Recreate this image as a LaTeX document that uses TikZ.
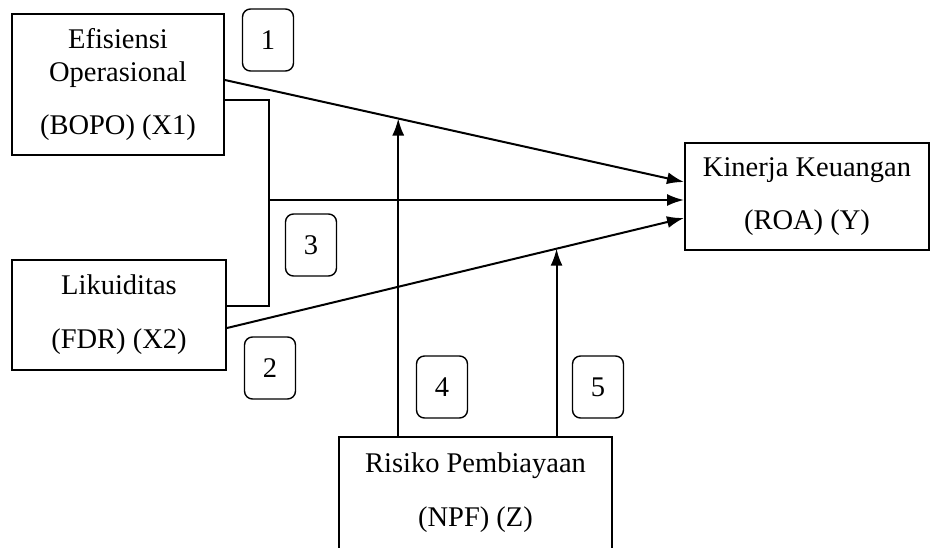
\documentclass[tikz,border=0pt]{standalone}
\usepackage{fontspec}
\setmainfont{Liberation Serif}
\usetikzlibrary{positioning,arrows.meta,calc}

\begin{document}
\begin{tikzpicture}[
  x=1pt, y=-1pt,
  font=\fontsize{28.5}{33}\selectfont,
  var/.style={rectangle, draw, line width=2pt, align=center, inner sep=0pt},
  num/.style={rectangle, rounded corners=8pt, draw, line width=1.4pt,
              minimum width=51pt, minimum height=62pt, inner sep=0pt},
  link/.style={line width=2pt},
  arrow/.style={link, -{Latex[length=17pt, width=12pt]}}
]
\useasboundingbox (0,0) rectangle (931,547);

% Variable boxes
\node[var, minimum width=212pt, minimum height=141pt] (x1) at (118,84)
  {Efisiensi\\Operasional\\[20pt](BOPO) (X1)};
\node[var, minimum width=214pt, minimum height=110pt] (x2) at (119,315)
  {Likuiditas\\[21pt](FDR) (X2)};
\node[var, minimum width=244pt, minimum height=107pt] (y) at (807,196.5)
  {Kinerja Keuangan\\[20pt](ROA) (Y)};
\node[var, minimum width=273pt, minimum height=112pt] (z) at (475.5,493)
  {Risiko Pembiayaan\\[21pt](NPF) (Z)};

% Hypothesis numbers
\node[num] (h1) at (268,40) {1};
\node[num] (h2) at (270,368) {2};
\node[num] (h3) at (311,245) {3};
\node[num] (h4) at (442,387) {4};
\node[num] (h5) at (598,387) {5};

% Arrow ends on Y
\coordinate (y1) at ($(y.west)+(0,-14.5)$);
\coordinate (y2) at ($(y.west)+(0,3.5)$);
\coordinate (y3) at ($(y.west)+(0,21.5)$);

% X1 -> Y and X2 -> Y
\draw[arrow] ($(x1.east)+(0,-4)$) coordinate (s1) -- (y1);
\draw[arrow] ($(x2.east)+(0,13)$) coordinate (s2) -- (y3);

% X1 and X2 together -> Y
\draw[link] ($(x1.east)+(0,16)$) -- ++(44,0) coordinate (knee) |- ($(x2.east)+(0,-9)$);
\draw[arrow] (knee |- y2) -- (y2);

% Moderation by Z
\coordinate (m1) at ($(s1)!0.3774!(y1)$);
\coordinate (m2) at ($(s2)!0.7211!(y3)$);
\draw[arrow] (m1 |- z.north) -- (m1);
\draw[arrow] (m2 |- z.north) -- (m2);

\end{tikzpicture}
\end{document}
